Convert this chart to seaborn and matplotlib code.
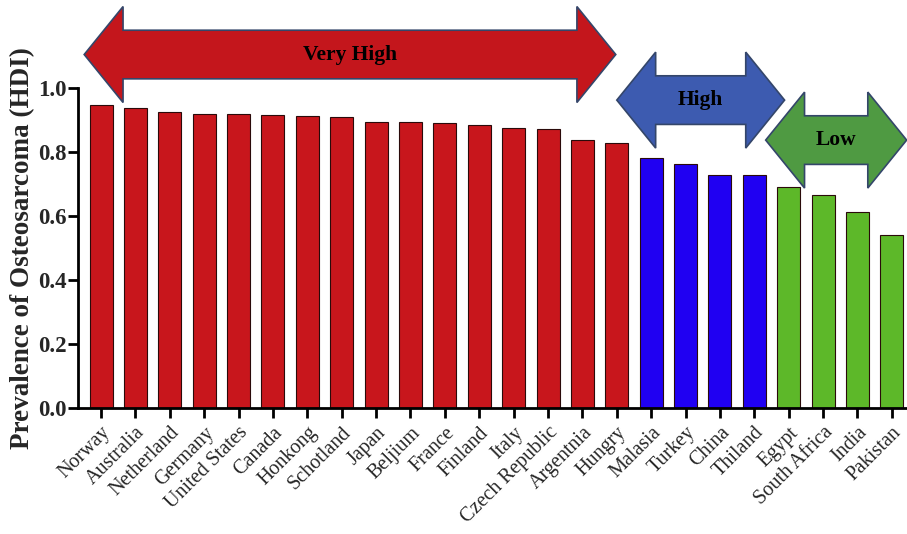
import numpy as np
import pandas as pd
import seaborn as sns
import matplotlib.pyplot as plt
from matplotlib.patches import Polygon

countries = ["Norway", "Australia", "Netherland", "Germany", "United States", "Canada",
             "Honkong", "Schotland", "Japan", "Beljium", "France", "Finland", "Italy",
             "Czech Republic", "Argentnia", "Hungry", "Malasia", "Turkey", "China",
             "Thiland", "Egypt", "South Africa", "India", "Pakistan"]
values = [0.947, 0.938, 0.924, 0.919, 0.918, 0.915, 0.912, 0.909, 0.894, 0.893, 0.890,
          0.884, 0.874, 0.872, 0.838, 0.829, 0.780, 0.763, 0.729, 0.727, 0.690, 0.667,
          0.612, 0.540]
groups = ["Very High"] * 16 + ["High"] * 4 + ["Low"] * 4

bar_colors = {"Very High": "#C8161C", "High": "#2000F2", "Low": "#5DB829"}
arrow_colors = {"Very High": "#C4161C", "High": "#3D5BB0", "Low": "#4F9A42"}

# arrow spans (x in category units) and vertical centre
arrow_labels = ["Very High", "High", "Low"]
arrow_x0 = [-0.49, 15.0, 19.33]
arrow_x1 = [14.97, 19.88, 23.43]
arrow_y = [1.105, 0.9625, 0.8375]

df = pd.DataFrame({"country": countries, "value": values, "group": groups})

sns.set_style("ticks")
plt.rcParams["font.family"] = ["Liberation Serif", "DejaVu Serif"]

fig = plt.figure(figsize=(9.07, 5.34), dpi=100)
ax = fig.add_axes([0.086, 0.236, 0.914, 0.599])

sns.barplot(data=df, x="country", y="value", hue="group", palette=bar_colors,
            dodge=False, width=0.67, saturation=1, edgecolor="#2a0a0a", linewidth=0.8,
            legend=False, ax=ax)


def double_arrow(ax, x0, x1, yc, color, label, head_len=1.13, head_h=0.15, body_h=0.076):
    pts = [(x0, yc), (x0 + head_len, yc + head_h), (x0 + head_len, yc + body_h),
           (x1 - head_len, yc + body_h), (x1 - head_len, yc + head_h), (x1, yc),
           (x1 - head_len, yc - head_h), (x1 - head_len, yc - body_h),
           (x0 + head_len, yc - body_h), (x0 + head_len, yc - head_h)]
    ax.add_patch(Polygon(pts, closed=True, facecolor=color, edgecolor="#34466a",
                         linewidth=1.2, clip_on=False, zorder=5))
    ax.text((x0 + x1) / 2, yc, label, ha="center", va="center", fontsize=15.5,
            fontweight="bold", color="black", zorder=6, clip_on=False)


for lab, a, b, y in zip(arrow_labels, arrow_x0, arrow_x1, arrow_y):
    double_arrow(ax, a, b, y, arrow_colors[lab], lab)

ax.set_xlim(-0.67, 23.44)
ax.set_ylim(0, 1.0)
ax.set_yticks(np.arange(0, 1.01, 0.2))
ax.set_yticklabels([f"{t:.1f}" for t in np.arange(0, 1.01, 0.2)], fontsize=16.5,
                   fontweight="bold")
ax.set_xticks(range(len(countries)))
ax.set_xticklabels(countries, rotation=45, ha="right", rotation_mode="anchor",
                   fontsize=14.5)
ax.tick_params(axis="both", direction="out", length=7, width=2, color="black")
ax.tick_params(axis="y", pad=1)
ax.tick_params(axis="x", pad=4)
ax.set_xlabel("")
ax.set_ylabel("Prevalence of Osteosarcoma (HDI)", fontsize=19.5, fontweight="bold")
ax.yaxis.set_label_coords(-0.052, 0.5)
for s in ["left", "bottom"]:
    ax.spines[s].set_linewidth(2)
    ax.spines[s].set_color("black")
sns.despine(ax=ax)

fig.savefig("out.png", dpi=100)
